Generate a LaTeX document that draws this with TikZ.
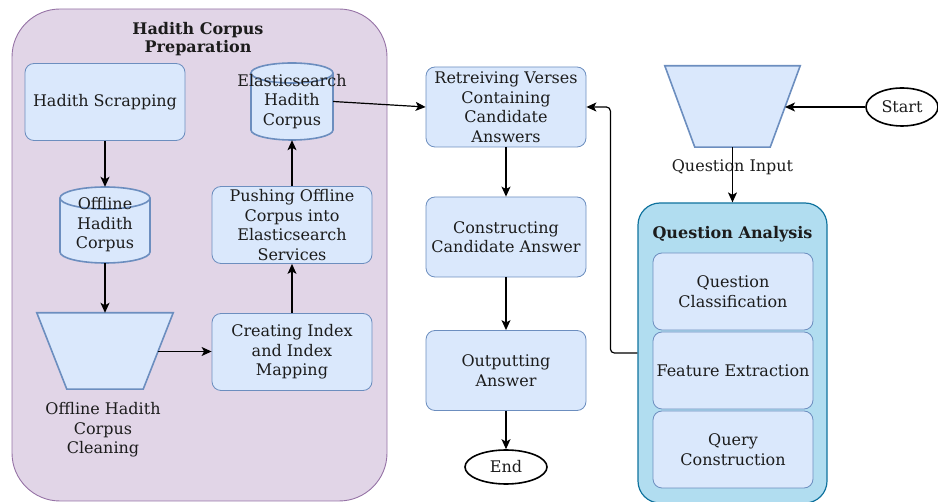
\documentclass[tikz,border=0pt]{standalone}
\usepackage{fontspec}
\setmainfont{DejaVu Serif}
\usetikzlibrary{arrows.meta,shapes.geometric}

\definecolor{boxfill}{HTML}{DAE8FC}
\definecolor{boxline}{HTML}{6C8EBF}
\definecolor{grpfill}{HTML}{E1D5E7}
\definecolor{grpline}{HTML}{9673A6}
\definecolor{qafill}{HTML}{B1DDF0}
\definecolor{qaline}{HTML}{10739E}
\definecolor{txt}{HTML}{1C1C1C}

\tikzset{
  every node/.style={font=\fontsize{16}{19.5}\selectfont, text=txt},
  procbox/.style={draw=boxline, fill=boxfill, rounded corners=9pt, line width=0.8pt,
    minimum width=160pt, minimum height=77pt, align=center, inner sep=0pt},
  shapebox/.style={draw=boxline, fill=boxfill, line width=1.6pt},
  plain/.style={align=center, inner sep=0pt},
  grptitle/.style={font=\fontsize{16}{18}\selectfont\bfseries, align=center, inner sep=0pt},
  terminal/.style={ellipse, draw=black, fill=white, line width=1.6pt, inner sep=0pt},
  flow/.style={-{Stealth[length=10pt,width=9pt,inset=2.5pt]}, line width=1.2pt, black},
}

% database cylinder: centre x, top y, half width, bottom y, cap radius
\newcommand{\dbcylinder}[5]{%
  \filldraw[shapebox] ({#1-#3},{#2+#5}) -- ({#1-#3},{#4-#5})
    arc[start angle=180,end angle=0,x radius=#3,y radius=#5]
    -- ({#1+#3},{#2+#5})
    arc[start angle=0,end angle=-180,x radius=#3,y radius=#5] -- cycle;
  \draw[shapebox, fill=none] ({#1-#3},{#2+#5})
    arc[start angle=180,end angle=0,x radius=#3,y radius=#5];
}

\begin{document}
\begin{tikzpicture}[x=1pt, y=-1pt]
\useasboundingbox (0,0) rectangle (938,502);

% group containers
\draw[draw=grpline, fill=grpfill, line width=0.9pt, rounded corners=48pt]
  (12,9) rectangle (387,501);
\node[grptitle] (prepTitle) at (198,39) {Hadith Corpus\\Preparation};

\node[draw=qaline, fill=qafill, line width=1.2pt, rounded corners=22pt,
  minimum width=189pt, minimum height=300pt, inner sep=0pt] (qa) at (732.5,353) {};
\node[grptitle] (qaTitle) at (732.5,234) {Question Analysis};

% corpus preparation steps
\node[procbox] (scrap) at (105,102) {Hadith Scrapping};

\dbcylinder{105}{187}{45}{263}{11}
\node[plain, minimum width=90pt, minimum height=76pt,
  label={[plain]center:{Offline\\Hadith\\Corpus}}] (offcorpus) at (105,225) {};

\node[plain, minimum width=136pt, minimum height=76pt] (clean) at (105,351) {};
\filldraw[shapebox] (clean.north west) -- (clean.north east)
  -- ([xshift=-30pt]clean.south east) -- ([xshift=30pt]clean.south west) -- cycle;
\coordinate (cleanR) at (157.5,351.5);
\node[plain] (cleanLabel) at (103,430) {Offline Hadith\\Corpus\\Cleaning};

\node[procbox] (index) at (292,352) {Creating Index\\and Index\\Mapping};
\node[procbox] (push) at (292,225) {Pushing Offline\\Corpus into\\Elasticsearch\\Services};

\dbcylinder{292}{63}{41}{140}{10}
\node[plain, minimum width=82pt, minimum height=77pt,
  label={[plain]center:{Elasticsearch\\Hadith\\Corpus}}] (escorpus) at (292,101.5) {};

% answer pipeline
\node[procbox, minimum height=80pt] (retrieve) at (506,107)
  {Retreiving Verses\\Containing\\Candidate\\Answers};
\node[procbox, minimum height=80pt] (construct) at (506,237)
  {Constructing\\Candidate Answer};
\node[procbox, minimum height=80pt] (output) at (506,370.5) {Outputting\\Answer};
\node[terminal, minimum width=82pt, minimum height=34pt] (end) at (506,467) {End};

% question side
\node[terminal, minimum width=72pt, minimum height=38pt] (start) at (902,107) {Start};

\node[plain, minimum width=135pt, minimum height=81pt] (qin) at (732.5,106.5) {};
\filldraw[shapebox] (qin.north west) -- (qin.north east)
  -- ([xshift=-30pt]qin.south east) -- ([xshift=30pt]qin.south west) -- cycle;
\coordinate (qinR) at (785,107);
\node[plain] (qinLabel) at (732.5,167) {Question Input};

\node[procbox] (qclass) at (733,291.5) {Question\\Classification};
\node[procbox] (feature) at (733,370.5) {Feature Extraction};
\node[procbox] (query) at (733,449.5) {Query\\Construction};

% connectors
\draw[flow] (scrap.south) -- (offcorpus.north);
\draw[flow] (offcorpus.south) -- (clean.north);
\draw[flow] (cleanR) -- (index.west |- cleanR);
\draw[flow] (index.north) -- (push.south);
\draw[flow] (push.north) -- (escorpus.south);
\draw[flow] (escorpus.east) -- (retrieve.west);
\draw[flow] (retrieve.south) -- (construct.north);
\draw[flow] (construct.south) -- (output.north);
\draw[flow] (output.south) -- (end.north);
\draw[flow] (start.west) -- (qinR);
\draw[flow] (qin.south) -- (qa.north);
\draw[flow, rounded corners=4pt] (qa.west) -- ++(-27,0) |- (retrieve.east);
\end{tikzpicture}
\end{document}
